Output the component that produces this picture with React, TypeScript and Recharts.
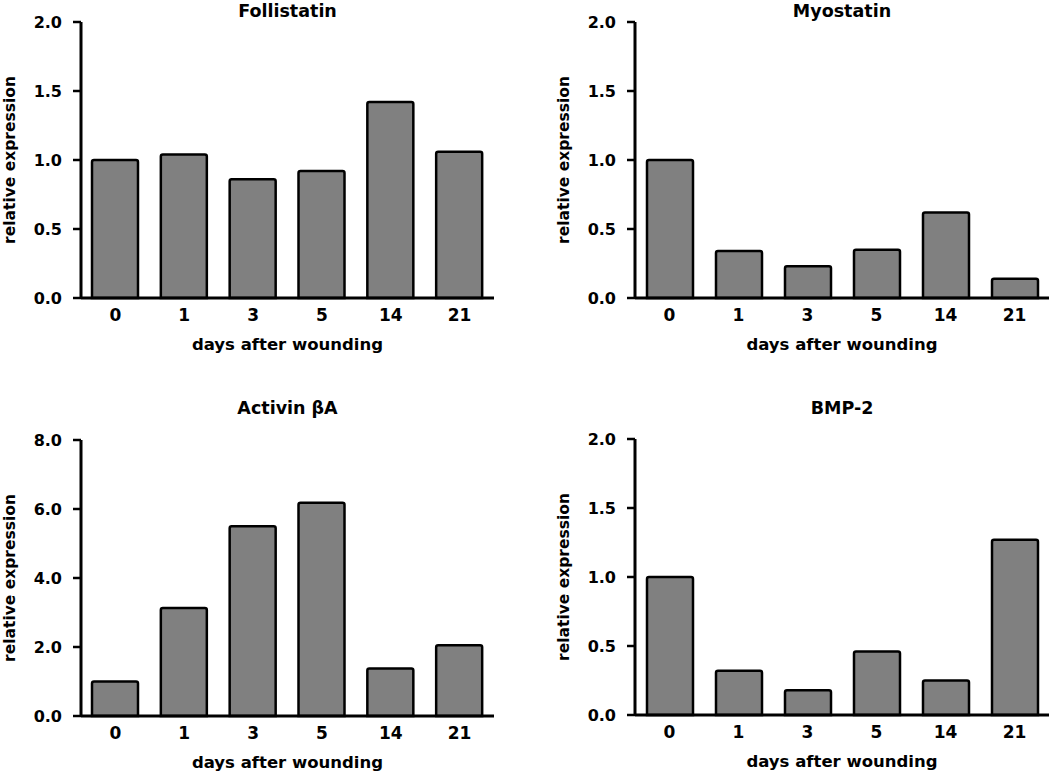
import React from "react";
import { BarChart, Bar, XAxis, YAxis } from "recharts";

const days = ["0", "1", "3", "5", "14", "21"];
const follistatin = [1.0, 1.04, 0.86, 0.92, 1.42, 1.06];
const myostatin = [1.0, 0.34, 0.23, 0.35, 0.62, 0.14];
const activinBA = [1.0, 3.13, 5.5, 6.18, 1.38, 2.05];
const bmp2 = [1.0, 0.32, 0.18, 0.46, 0.25, 1.27];

const ticksSmall = [0, 0.5, 1.0, 1.5, 2.0];
const ticksLarge = [0, 2, 4, 6, 8];

const FONT = "'DejaVu Sans', Verdana, sans-serif";
const CHART_W = 525;
const CHART_H = 386;

interface PanelProps {
  title: string;
  values: number[];
  ticks: number[];
  left: number;
  top: number;
  yAxisWidth: number;
  marginTop: number;
  marginBottom: number;
  marginRight: number;
  titleTop: number;
}

// rotated y label, placed relative to the axis line
const YLabel = (props: any) => {
  const { x, y, width, height } = props.viewBox;
  const cx = x + width - 71;
  const cy = y + height / 2;
  return (
    <text
      x={cx}
      y={cy}
      transform={`rotate(-90 ${cx} ${cy})`}
      textAnchor="middle"
      dominantBaseline="central"
      fontFamily={FONT}
      fontWeight="bold"
      fontSize={15.5}
      fill="#000"
    >
      relative expression
    </text>
  );
};

const XLabel = (props: any) => {
  const { x, y, width } = props.viewBox;
  return (
    <text
      x={x + width / 2}
      y={y + 52}
      textAnchor="middle"
      fontFamily={FONT}
      fontWeight="bold"
      fontSize={16.5}
      fill="#000"
    >
      days after wounding
    </text>
  );
};

function Panel({
  title,
  values,
  ticks,
  left,
  top,
  yAxisWidth,
  marginTop,
  marginBottom,
  marginRight,
  titleTop,
}: PanelProps) {
  const data = days.map((d, i) => ({ day: d, value: values[i] }));
  const plotWidth = CHART_W - yAxisWidth - marginRight;
  const yMax = ticks[ticks.length - 1];

  return (
    <div style={{ position: "absolute", left, top, width: CHART_W, height: CHART_H }}>
      <div
        style={{
          position: "absolute",
          left: yAxisWidth,
          top: titleTop,
          width: plotWidth,
          textAlign: "center",
          fontFamily: FONT,
          fontWeight: "bold",
          fontSize: 17.5,
          lineHeight: "17px",
          color: "#000",
        }}
      >
        {title}
      </div>
      <BarChart
        width={CHART_W}
        height={CHART_H}
        data={data}
        margin={{ top: marginTop, right: marginRight, bottom: marginBottom, left: 0 }}
        barSize={46}
      >
        <XAxis
          dataKey="day"
          height={56}
          axisLine={{ stroke: "#000", strokeWidth: 3 }}
          tickLine={false}
          tickSize={0}
          tickMargin={11}
          tick={{ fontFamily: FONT, fontWeight: "bold", fontSize: 17, fill: "#000" }}
          label={{ content: <XLabel /> }}
        />
        <YAxis
          width={yAxisWidth}
          domain={[0, yMax]}
          ticks={ticks}
          interval={0}
          axisLine={{ stroke: "#000", strokeWidth: 3 }}
          tickLine={{ stroke: "#000", strokeWidth: 2.5 }}
          tickSize={8}
          tickMargin={11}
          tickFormatter={(v: number) => v.toFixed(1)}
          tick={{ fontFamily: FONT, fontWeight: "bold", fontSize: 16, fill: "#000" }}
          label={{ content: <YLabel /> }}
        />
        <Bar
          dataKey="value"
          fill="#808080"
          stroke="#000"
          strokeWidth={2.5}
          radius={[2, 2, 0, 0]}
          isAnimationActive={false}
        />
      </BarChart>
    </div>
  );
}

export default function App() {
  return (
    <div
      style={{
        position: "absolute",
        left: 0,
        top: 0,
        width: 1050,
        height: 772,
        background: "#fff",
        overflow: "hidden",
      }}
    >
      <Panel
        title="Follistatin"
        values={follistatin}
        ticks={ticksSmall}
        left={0}
        top={0}
        yAxisWidth={81}
        marginTop={22}
        marginBottom={32}
        marginRight={31}
        titleTop={3}
      />
      <Panel
        title="Myostatin"
        values={myostatin}
        ticks={ticksSmall}
        left={525}
        top={0}
        yAxisWidth={110}
        marginTop={22}
        marginBottom={32}
        marginRight={1}
        titleTop={3}
      />
      <Panel
        title="Activin βA"
        values={activinBA}
        ticks={ticksLarge}
        left={0}
        top={386}
        yAxisWidth={81}
        marginTop={54}
        marginBottom={0}
        marginRight={31}
        titleTop={14}
      />
      <Panel
        title="BMP-2"
        values={bmp2}
        ticks={ticksSmall}
        left={525}
        top={386}
        yAxisWidth={110}
        marginTop={53}
        marginBottom={1}
        marginRight={1}
        titleTop={14}
      />
    </div>
  );
}
